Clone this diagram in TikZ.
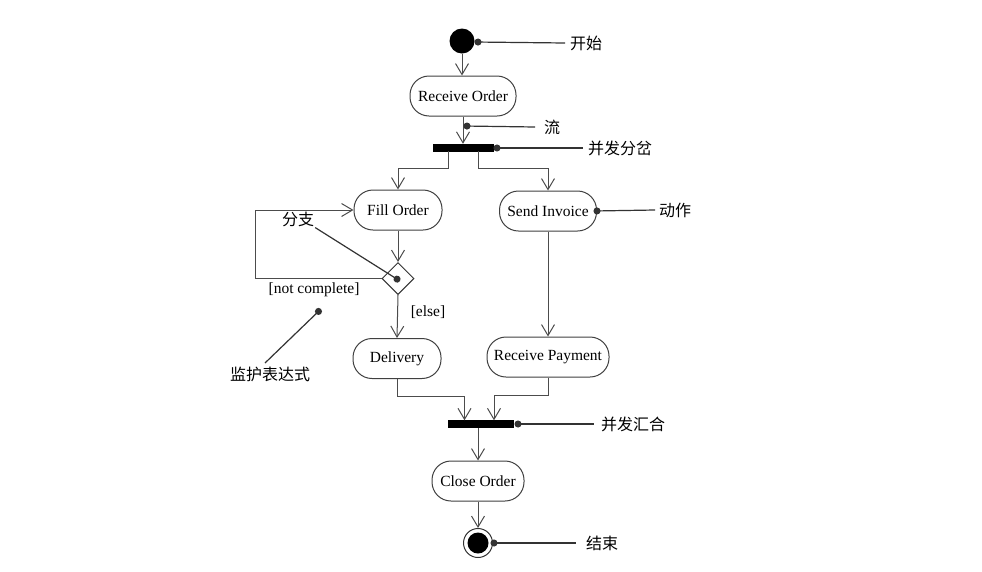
\documentclass[tikz,border=0pt]{standalone}
\usepackage{fontspec}
\setmainfont{Liberation Serif}
\newfontfamily\cjk{Noto Sans CJK SC}
\usetikzlibrary{arrows.meta,shapes.geometric}
\begin{document}
\begin{tikzpicture}[x=1pt,y=-1pt,
  act/.style={draw=black!75, line width=1pt, rounded corners=19pt, minimum height=40pt, inner sep=0pt, font=\fontsize{15.5}{17}\selectfont, fill=white},
  bar/.style={fill=black, draw=black, minimum height=7pt, inner sep=0pt},
  flow/.style={draw=black!70, line width=1pt, -{Straight Barb[length=11pt,width=13pt,line width=1pt]}},
  note/.style={draw=black!80, line width=1.2pt, {Circle[length=7pt]}-},
  lbl/.style={font=\cjk\fontsize{16}{18}\selectfont, anchor=west, inner sep=0pt},
  clbl/.style={font=\cjk\fontsize{16}{18}\selectfont, inner sep=1pt},
  guard/.style={font=\fontsize{15.5}{17}\selectfont, inner sep=0pt}
]
\useasboundingbox (0,0) rectangle (982,571);
% nodes
\node[circle, fill=black, minimum size=25pt, inner sep=0pt] (start) at (462,41) {};
\node[act, minimum width=106pt] (recv) at (463,96) {Receive Order};
\node[bar, minimum width=60pt] (fork) at (463,147.5) {};
\node[act, minimum width=88pt] (fill) at (398,210) {Fill Order};
\node[act, minimum width=97pt] (send) at (548,211) {Send Invoice};
\node[diamond, draw=black!80, line width=1pt, fill=white, minimum width=32pt, minimum height=32pt, inner sep=0pt] (dec) at (398,278.5) {};
\node[act, minimum width=88pt] (deliv) at (397,358.5) {Delivery};
\node[act, minimum width=122pt] (pay) at (548,357) {Receive Payment};
\node[bar, minimum width=65pt] (join) at (480.5,424) {};
\node[act, minimum width=92pt] (close) at (478,481) {Close Order};
\node[circle, draw=black!80, line width=1pt, minimum size=29pt, inner sep=0pt] (end) at (478,543) {};
\node[circle, fill=black, minimum size=21pt, inner sep=0pt] (endin) at (478,543) {};
% flows
\draw[flow] (start.south) -- (start.south |- recv.north);
\draw[flow] (recv.south) -- (recv.south |- fork.north);
\draw[flow] ([xshift=-15pt]fork.south) -- ++(0,17) -| (fill.north);
\draw[flow] ([xshift=15pt]fork.south) -- ++(0,17) -| (send.north);
\draw[flow] (fill.south) -- (dec.north);
\draw[flow] (dec.west) -- ++(-126,0) |- (fill.west);
\draw[flow] (dec.south) -- (deliv.north);
\draw[flow] (send.south) -- (pay.north);
\draw[flow] (deliv.south) -- ++(0,17) -| ([xshift=-16pt]join.north);
\draw[flow] (pay.south) -- ++(0,18) -| ([xshift=13.5pt]join.north);
\draw[flow] (join.south -| close.north) -- (close.north);
\draw[flow] (close.south) -- (end.north);
% guards
\node[guard] (gnc) at (314,290) {[not complete]};
\node[guard] (gel) at (428,312) {[else]};
% callouts
\node[lbl] (t1) at (570,43) {开始};
\coordinate (d1) at (474.5,42);
\draw[note] (d1) -- ([xshift=-5pt]t1.west);
\node[lbl] (t2) at (544,127) {流};
\coordinate (d2) at (463.5,126);
\draw[note] (d2) -- ([xshift=-9pt]t2.west);
\node[lbl] (t3) at (588,148) {并发分岔};
\coordinate (d3) at (493.5,148);
\draw[note] (d3) -- ([xshift=-5pt]t3.west);
\node[lbl] (t4) at (659,210) {动作};
\coordinate (d4) at (593.5,211);
\draw[note] (d4) -- ([xshift=-4pt]t4.west);
\node[lbl] (t5) at (601,424) {并发汇合};
\coordinate (d5) at (514.5,424);
\draw[note] (d5) -- ([xshift=-7pt]t5.west);
\node[lbl] (t6) at (586,543) {结束};
\coordinate (d6) at (490.5,543);
\draw[note] (d6) -- ([xshift=-10pt]t6.west);
\node[clbl] (t7) at (298,219) {分支};
\coordinate (d7) at (400,281);
\draw[note] (d7) -- (t7.south east);
\node[clbl] (t8) at (270,374) {监护表达式};
\coordinate (d8) at (321,309);
\coordinate (e8) at (265,363);
\draw[note] (d8) -- (e8);
\end{tikzpicture}
\end{document}
